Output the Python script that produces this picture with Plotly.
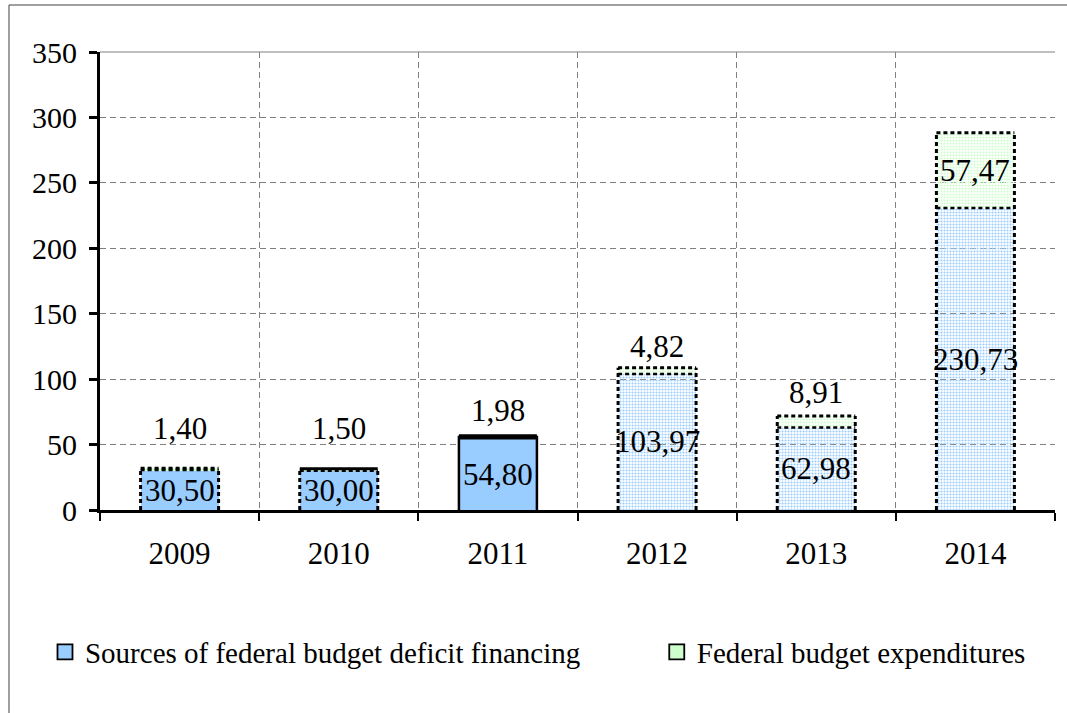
import plotly.graph_objects as go

# Chart data
years = ["2009", "2010", "2011", "2012", "2013", "2014"]
deficit_sources = [30.50, 30.00, 54.80, 103.97, 62.98, 230.73]
expenditures = [1.40, 1.50, 1.98, 4.82, 8.91, 57.47]
y_ticks = [0, 50, 100, 150, 200, 250, 300, 350]

# Styling
FONT = "Liberation Serif, Times New Roman, serif"
BLUE = "#99CCFF"
GREEN = "#CCFFCC"
BAR_W = 0.49
# bars drawn with a fine dotted texture (later years)
textured = [False, False, False, True, True, True]
# outline style of each bar: "dot" or "solid"; 2010 has a solid top edge
outline_sides = ["dot", "dot", "solid", "dot", "dot", "dot"]
outline_top = ["dot", "solid", "solid", "dot", "dot", "dot"]
# pixel lift of the expenditure label above the bar top (None = inside)
exp_label_lift = [40, 40, 25, 21, 23, None]
DOTS = "4px,3px"


def fmt(v):
    return f"{v:.2f}".replace(".", ",")


fig = go.Figure()

blue_pattern = dict(
    shape=["." if t else "" for t in textured],
    fgcolor=["#B5D6FA"] * len(years),
    bgcolor=["#D6E8FC" if t else BLUE for t in textured],
    size=3,
    solidity=0.4,
    fillmode="replace",
)
green_pattern = dict(
    shape=["." if t else "" for t in textured],
    fgcolor=["#D8F8D8"] * len(years),
    bgcolor=["#EDFDED" if t else GREEN for t in textured],
    size=3,
    solidity=0.4,
    fillmode="replace",
)

fig.add_trace(go.Bar(
    x=years, y=deficit_sources, width=BAR_W,
    marker=dict(color=[BLUE] * len(years), line=dict(width=0), pattern=blue_pattern),
    showlegend=False, hoverinfo="skip",
))
fig.add_trace(go.Bar(
    x=years, y=expenditures, width=BAR_W,
    marker=dict(color=[GREEN] * len(years), line=dict(width=0), pattern=green_pattern),
    showlegend=False, hoverinfo="skip",
))

# legend entries: square swatches with a black border
fig.add_trace(go.Scatter(
    x=[None], y=[None], mode="markers", name="Sources of federal budget deficit financing",
    marker=dict(symbol="square", size=15, color=BLUE, line=dict(color="black", width=1.8)),
    legend="legend",
))
fig.add_trace(go.Scatter(
    x=[None], y=[None], mode="markers", name="Federal budget expenditures",
    marker=dict(symbol="square", size=15, color=GREEN, line=dict(color="black", width=1.8)),
    legend="legend2",
))

shapes = []
annotations = []


def seg(x0, y0, x1, y1, style, width):
    return dict(
        type="line", xref="x", yref="y", x0=x0, y0=y0, x1=x1, y1=y1,
        line=dict(color="black", width=width,
                  dash=DOTS if style == "dot" else "solid"),
        layer="above",
    )


label_font = dict(family=FONT, size=31, color="black")

for i, yr in enumerate(years):
    b = deficit_sources[i]
    top = b + expenditures[i]
    xl, xr = i - BAR_W / 2, i + BAR_W / 2
    sw = 3 if outline_sides[i] == "dot" else 2.5
    shapes.append(seg(xl, 0, xl, top, outline_sides[i], sw))
    shapes.append(seg(xr, 0, xr, top, outline_sides[i], sw))
    shapes.append(seg(xl, top, xr, top, outline_top[i], 3))
    shapes.append(seg(xl, b, xr, b, outline_top[i] if i != 1 else "dot", 2.5))

    annotations.append(dict(
        x=i, y=b / 2, xref="x", yref="y", text=fmt(b), showarrow=False,
        font=label_font,
    ))
    lift = exp_label_lift[i]
    if lift is None:
        annotations.append(dict(
            x=i, y=b + expenditures[i] / 2, xref="x", yref="y",
            text=fmt(expenditures[i]), showarrow=False, font=label_font,
        ))
    else:
        annotations.append(dict(
            x=i, y=top, xref="x", yref="y", yshift=lift,
            text=fmt(expenditures[i]), showarrow=False, font=label_font,
        ))

# top edge of the plot area
shapes.append(dict(type="line", xref="paper", yref="paper", x0=0, x1=1, y0=1, y1=1,
                   line=dict(color="#808080", width=1), layer="below"))
# outer frame of the chart
shapes.append(dict(type="rect", xref="paper", yref="paper",
                   x0=-0.0953, x1=1.03, y0=-0.47, y1=1.1026,
                   line=dict(color="#404040", width=1), layer="below"))

legend_common = dict(
    orientation="h", yanchor="middle", y=-0.31, xanchor="left",
    font=dict(family=FONT, size=29), bgcolor="rgba(0,0,0,0)",
    itemclick=False, itemdoubleclick=False,
)

fig.update_layout(
    width=1067, height=713,
    margin=dict(l=100, r=12, t=52, b=203),
    paper_bgcolor="white", plot_bgcolor="white",
    barmode="stack",
    font=dict(family=FONT, size=29, color="black"),
    shapes=shapes, annotations=annotations,
    legend=dict(x=-0.0576, **legend_common),
    legend2=dict(x=0.583, **legend_common),
    xaxis=dict(
        type="category", range=[-0.5, 5.5], tickson="boundaries",
        ticks="outside", ticklen=8, tickwidth=2, tickcolor="black",
        showline=True, linecolor="black", linewidth=3,
        showgrid=True, gridcolor="#808080", gridwidth=1, griddash="6px,4px",
        tickfont=dict(family=FONT, size=31), ticklabelstandoff=14,
    ),
    yaxis=dict(
        range=[0, 350], tickvals=y_ticks, ticks="outside", ticklen=8,
        tickwidth=2.5, tickcolor="black",
        showline=True, linecolor="black", linewidth=3,
        showgrid=True, gridcolor="#808080", gridwidth=1, griddash="6px,4px",
        zeroline=False, tickfont=dict(family=FONT, size=30), ticklabelstandoff=6,
    ),
)

fig.write_html("out.html")
